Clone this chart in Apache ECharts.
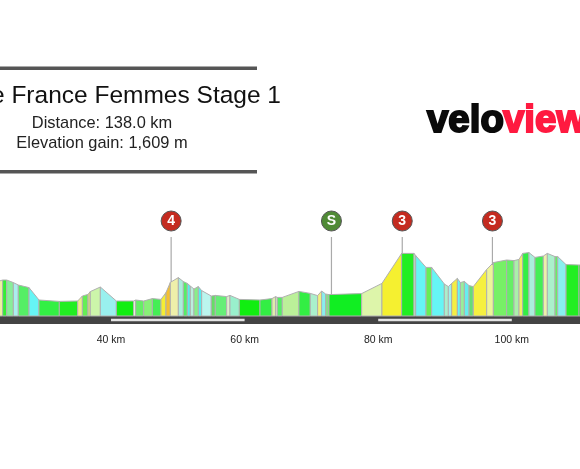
<!DOCTYPE html>
<html>
<head>
<meta charset="utf-8">
<style>html,body{margin:0;padding:0;background:#fff}#main{width:580px;height:469px}</style>
<script src="https://cdn.jsdelivr.net/npm/echarts@6/dist/echarts.min.js"></script>
</head>
<body>
<div id="main"></div>
<script>
// profile points, distance in km and height above the base of the profile in m
const distances = [22.5, 23.78, 24.38, 25.38, 26.12, 27.72, 29.22, 32.26, 35.01, 35.71, 36.55, 36.9, 38.4, 40.8, 43.39, 43.69, 44.89, 46.19, 47.48, 48.23, 48.88, 50.08, 50.83, 51.42, 51.87, 52.42, 53.07, 53.57, 55.01, 55.61, 57.31, 57.81, 59.21, 62.3, 64.1, 64.64, 64.89, 65.64, 68.14, 69.83, 70.93, 71.53, 72.13, 72.63, 77.52, 80.56, 83.51, 85.36, 85.61, 87.16, 88, 89.9, 90.5, 91, 91.85, 92.3, 92.9, 93.6, 94.24, 96.24, 97.24, 99.23, 100.33, 101.08, 101.63, 102.57, 103.47, 104.72, 105.32, 106.47, 106.87, 108.12, 110.06, 112];
const elevations = [167, 180, 180, 167, 155, 142, 80, 73, 75, 100, 108, 122, 145, 75, 75, 80, 75, 87, 83, 117, 168, 192, 172, 163, 150, 135, 147, 127, 100, 103, 97, 103, 83, 80, 87, 97, 93, 93, 123, 113, 102, 125, 110, 107, 112, 163, 313, 313, 302, 243, 243, 160, 147, 163, 188, 167, 173, 152, 147, 233, 267, 280, 277, 283, 313, 317, 293, 300, 313, 297, 297, 257, 255, 255];

const climbKm = [49, 73, 83.6, 97.1];
const climbElevations = [170, 108, 313, 255];
const climbLabels = ['4', 'S', '3', '3'];
const whiteBands = [[40, 60], [80, 100]];
const tickKm = [40, 60, 80, 100];

const titleText = 'Tour de France Femmes Stage 1';
const distanceText = 'Distance: 138.0 km';
const gainText = 'Elevation gain: 1,609 m';

const segmentColors = ['#eef0a0', '#33ee33', '#88ee99', '#aaeeee', '#55ee66', '#66f5f5', '#33f044', '#22ee22', '#eef088', '#66ee55', '#dddd77', '#ccf5aa', '#99f0ee', '#11ee11', '#eeffdd', '#66ee66', '#88f077', '#44ee55', '#f5ee33', '#f5c030', '#eef0aa', '#aaeedd', '#55ee66', '#55eeee', '#bbeedd', '#88ee88', '#55eeee', '#bbf5ee', '#66dd66', '#66ee77', '#ddeecc', '#99f0cc', '#11ee11', '#33ee44', '#ddeeaa', '#eeeecc', '#55ee66', '#bbf099', '#33ee44', '#aaf0cc', '#f0f080', '#88eeee', '#88dd88', '#11ee22', '#ddf5aa', '#f5f030', '#22ee22', '#c8f0c8', '#66f5f5', '#66ee55', '#66f5f5', '#aaeecc', '#a0f0f0', '#f5ee44', '#66f5f5', '#99ee99', '#66eeee', '#66dd77', '#f5f040', '#eef599', '#77f066', '#66ee66', '#aaf0aa', '#f5ee66', '#33ee44', '#aaeedd', '#44ee55', '#eef0aa', '#aaf0cc', '#66ee66', '#88f0ee', '#22ee22', '#22ee22'];
const climbColors = ['#c42b20', '#4f8a35', '#c42b20', '#c42b20'];

const FONT = '"Liberation Sans", Arial, sans-serif';
const chart = echarts.init(document.getElementById('main'), null, { renderer: 'canvas' });

const segments = segmentColors.map((color, i) => [distances[i], elevations[i], distances[i + 1], elevations[i + 1]]);

const option = {
    backgroundColor: '#fff',
    animation: false,
    grid: { left: 0, right: 0, top: 216, bottom: 153 },
    // the stage is longer than the window, only this stretch of it is in the photo
    xAxis: {
        type: 'value',
        min: 23.38,
        max: 110.21,
        offset: 4,
        splitLine: { show: false },
        axisTick: { show: false },
        axisLine: { show: true, onZero: false, lineStyle: { color: '#444', width: 8 } },
        axisLabel: {
            margin: 14.5,
            fontSize: 10.5,
            fontFamily: FONT,
            color: '#222',
            customValues: tickKm,
            formatter: '{value} km',
        },
    },
    yAxis: { type: 'value', min: 0, max: 500, show: false },
    series: [
        {
            type: 'custom',
            clip: false,
            z: 2,
            data: segments,
            encode: { x: [0, 2], y: [1, 3] },
            renderItem: (params, api) => {
                const a = api.coord([api.value(0), 0]);
                const b = api.coord([api.value(0), api.value(1)]);
                const c = api.coord([api.value(2), api.value(3)]);
                const d = api.coord([api.value(2), 0]);
                return {
                    type: 'polygon',
                    shape: { points: [a, b, c, d] },
                    style: { fill: segmentColors[params.dataIndex], stroke: '#b0b0b0', lineWidth: 1 },
                };
            },
        },
        {
            // white distance bands inside the dark base bar
            type: 'custom',
            clip: false,
            z: 5,
            data: whiteBands,
            encode: { x: [0, 1] },
            renderItem: (params, api) => {
                const start = api.coord([api.value(0), 0]);
                const end = api.coord([api.value(1), 0]);
                return {
                    type: 'rect',
                    shape: { x: start[0], y: start[1] + 2.7, width: end[0] - start[0], height: 2.6 },
                    style: { fill: '#e4e4e4' },
                };
            },
        },
        {
            // pins from the profile up to the climb markers
            type: 'custom',
            clip: false,
            z: 3,
            data: climbKm.map((km, i) => [km, climbElevations[i]]),
            encode: { x: 0, y: 1 },
            renderItem: (params, api) => {
                const from = api.coord([api.value(0), api.value(1)]);
                const to = api.coord([api.value(0), 395]);
                return {
                    type: 'line',
                    shape: { x1: from[0], y1: from[1], x2: to[0], y2: to[1] },
                    style: { stroke: '#aaa', lineWidth: 1.2 },
                };
            },
        },
        {
            type: 'scatter',
            z: 6,
            symbolSize: 20,
            clip: false,
            data: climbKm.map((km, i) => ({
                value: [km, 475],
                itemStyle: { color: climbColors[i], borderColor: '#555', borderWidth: 1, opacity: 1 },
                label: { formatter: climbLabels[i] },
            })),
            label: {
                show: true,
                position: 'inside',
                color: '#fff',
                fontSize: 14,
                fontWeight: 'bold',
                fontFamily: FONT,
            },
        },
    ],
    graphic: [
        { type: 'rect', shape: { x: 0, y: 66.5, width: 257, height: 3.5 }, style: { fill: '#555' } },
        { type: 'rect', shape: { x: 0, y: 170, width: 257, height: 3.5 }, style: { fill: '#555' } },
        {
            type: 'text', x: 281, y: 96,
            style: { text: titleText, fill: '#111', font: `24.5px ${FONT}`, textAlign: 'right', textVerticalAlign: 'middle' },
        },
        {
            type: 'text', x: 102, y: 123,
            style: { text: distanceText, fill: '#222', font: `16.4px ${FONT}`, textAlign: 'center', textVerticalAlign: 'middle' },
        },
        {
            type: 'text', x: 102, y: 143,
            style: { text: gainText, fill: '#222', font: `16.4px ${FONT}`, textAlign: 'center', textVerticalAlign: 'middle' },
        },
        {
            type: 'text', x: 427, y: 101, scaleX: 0.8, scaleY: 0.82,
            style: { text: 'velo', fill: '#0a0a0a', stroke: '#0a0a0a', lineWidth: 2.5, font: `bold 48px ${FONT}`, textBaseline: 'top' },
        },
        {
            type: 'text', x: 503, y: 101, scaleX: 0.8, scaleY: 0.82,
            style: { text: 'views', fill: '#ff1a40', stroke: '#ff1a40', lineWidth: 2.5, font: `bold 48px ${FONT}`, textBaseline: 'top' },
        },
    ],
};
chart.setOption(option);
</script>
</body>
</html>
